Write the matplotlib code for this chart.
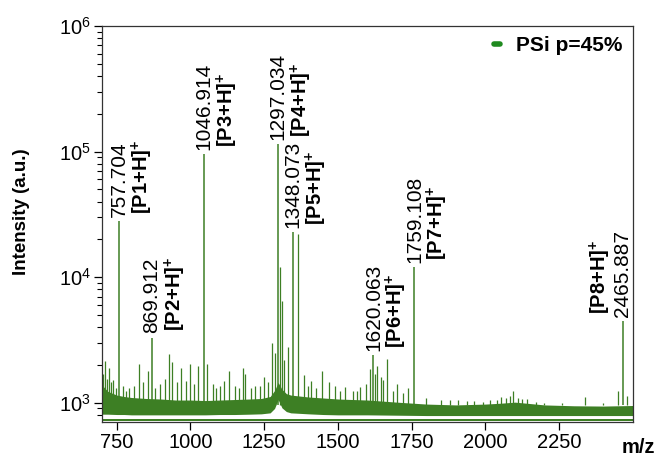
import numpy as np
import matplotlib
matplotlib.use("Agg")
import matplotlib.pyplot as plt
from matplotlib.lines import Line2D
from matplotlib.ticker import LogLocator, NullFormatter

plt.rcParams['font.family'] = ['Liberation Sans', 'DejaVu Sans']
plt.rcParams['mathtext.fontset'] = 'custom'
plt.rcParams['mathtext.rm'] = 'Liberation Sans'
plt.rcParams['mathtext.bf'] = 'Liberation Sans:bold'

# -----------------------------
# Data
# -----------------------------
# labelled peaks
peak_mz = [757.704, 869.912, 1046.914, 1297.034, 1348.073, 1620.063, 1759.108, 2465.887]
peak_int = [2.8e4, 3.3e3, 9.6e4, 1.14e5, 2.3e4, 2.4e3, 1.2e4, 4.45e3]
peak_name = ['P1', 'P2', 'P3', 'P4', 'P5', 'P6', 'P7', 'P8']

# smaller unlabelled peaks / noise spikes
side_mz = [705, 711, 717, 724, 731, 739, 748, 770, 781, 790, 808, 824, 840, 855, 880, 897,
           912, 928, 939, 955, 969, 985, 999, 1013, 1027, 1055, 1076, 1088, 1100, 1115,
           1129, 1150, 1165, 1178, 1186, 1205, 1220, 1236, 1248, 1262, 1276, 1288, 1303,
           1309, 1316, 1331, 1364, 1385, 1398, 1410, 1425, 1446, 1470, 1491, 1508, 1525,
           1550, 1565, 1576, 1595, 1610, 1626, 1633, 1645, 1653, 1667, 1685, 1700, 1720,
           1738, 1800, 1850, 1880, 1908, 1938, 1961, 1990, 2015, 2040, 2052, 2070, 2083,
           2094, 2110, 2123, 2140, 2170, 2200, 2260, 2337, 2400, 2450, 2480]
side_int = [1700, 2130, 1550, 1900, 1450, 1530, 1300, 1350, 1250, 1300, 1350, 2020, 1450,
            1780, 1300, 1400, 1550, 2430, 2090, 1450, 1900, 1500, 2020, 1400, 1950, 2020,
            1400, 1300, 1350, 1500, 1780, 1350, 1300, 1900, 1700, 1300, 1360, 1350, 1600,
            1450, 3000, 2500, 12000, 6400, 2200, 2800, 22000, 1650, 1350, 1500, 1300, 1780,
            1450, 1360, 1250, 1330, 1250, 1250, 1330, 1400, 1840, 1700, 1950, 1600, 1530,
            2210, 1250, 1400, 1200, 1300, 1080, 1050, 1050, 1060, 1040, 1040, 1020, 1060,
            1050, 1115, 1080, 1130, 1235, 1080, 1070, 1075, 1020, 1000, 1000, 1100, 1000,
            1235, 1130]

# noise band envelope
base_mz = [700, 720, 750, 775, 800, 850, 900, 950, 1000, 1050, 1100, 1150, 1200, 1240,
           1270, 1285, 1297, 1310, 1325, 1340, 1400, 1450, 1500, 1600, 1700, 1800, 1900,
           2000, 2050, 2100, 2150, 2200, 2300, 2400, 2500]
base_hi = [1380, 1230, 1150, 1120, 1100, 1080, 1070, 1050, 1050, 1040, 1050, 1060, 1070,
           1080, 1120, 1250, 1450, 1280, 1180, 1150, 1110, 1090, 1070, 1050, 1010, 975, 960,
           975, 990, 1010, 985, 960, 945, 940, 950]
base_lo = [810, 810, 805, 805, 800, 800, 800, 800, 800, 800, 805, 805, 810, 815, 830, 900,
           1060, 910, 850, 830, 815, 805, 800, 800, 795, 790, 790, 790, 790, 790, 790, 790,
           790, 790, 790]
floor_lo = [712] * len(base_mz)
floor_hi = [745] * len(base_mz)

green = '#3d7f24'

fig = plt.figure(figsize=(6.58, 4.58), dpi=100)
ax = fig.add_axes([0.155, 0.0793, 0.807, 0.864])

ax.fill_between(base_mz, base_lo, base_hi, color=green, lw=0)
ax.fill_between(base_mz, floor_lo, floor_hi, color=green, lw=0)
ax.vlines(side_mz, 950, side_int, color=green, lw=0.9)
ax.vlines(peak_mz, 950, peak_int, color=green, lw=1.1)

# annotations
for mz, h, name in zip(peak_mz, peak_int, peak_name):
    side = -1 if name == 'P8' else 1
    ax.annotate(f'{mz:.3f}', xy=(mz, h), xytext=(0, 3), textcoords='offset points',
                rotation=90, ha='center', va='bottom', fontsize=15)
    ax.annotate(f'[{name}+H]' + r'$^{\mathbf{+}}$', xy=(mz, h),
                xytext=(side * 16.5, 5), textcoords='offset points',
                rotation=90, ha='center', va='bottom', fontsize=14.5, fontweight='bold')

ax.set_yscale('log')
ax.set_xlim(700, 2500)
ax.set_ylim(706, 1e6)
ax.set_xticks([750, 1000, 1250, 1500, 1750, 2000, 2250])
ax.yaxis.set_major_locator(LogLocator(base=10, numticks=10))
ax.yaxis.set_minor_locator(LogLocator(base=10, subs=np.arange(2, 10), numticks=10))
ax.yaxis.set_minor_formatter(NullFormatter())
ax.tick_params(axis='both', which='major', direction='out', length=6, width=0.9,
               labelsize=14.5, pad=2)
ax.tick_params(axis='y', which='minor', direction='out', length=3.5, width=0.8)
for sp in ax.spines.values():
    sp.set_linewidth(0.9)
    sp.set_color('#333333')

ax.text(-0.151, 0.53, 'Intensity (a.u.)', transform=ax.transAxes, rotation=90,
        ha='center', va='center', fontsize=13.5, fontweight='bold')
ax.text(1.01, -0.064, 'm/z', transform=ax.transAxes, ha='center', va='center',
        fontsize=14.5, fontweight='bold')

handle = Line2D([], [], color='#1f8a1f', lw=4, solid_capstyle='round')
ax.legend([handle], ['PSi p=45%'], loc='upper right', frameon=False,
          prop={'weight': 'bold', 'size': 15}, handlelength=0.25, handletextpad=0.8,
          borderpad=0.2, borderaxespad=0.3)

fig.savefig('out.png', dpi=100)
